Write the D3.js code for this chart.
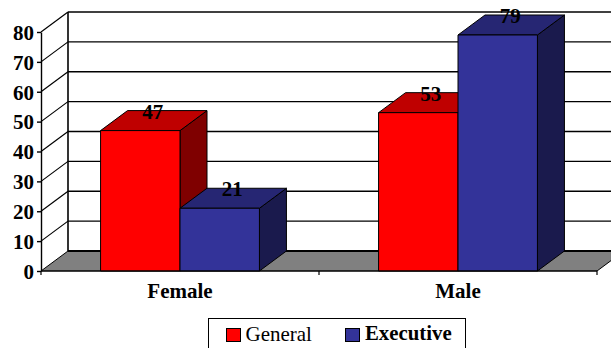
<!DOCTYPE html>
<html>
<head>
<meta charset="utf-8">
<script src="https://cdn.jsdelivr.net/npm/d3@7"></script>
<style>
html, body { margin: 0; padding: 0; background: #fff; }
svg { display: block; }
text { font-family: "Liberation Serif", serif; fill: #000; }
</style>
</head>
<body>
<svg id="chart" width="611" height="348"></svg>
<script>
const categories = ["Female", "Male"];
const seriesNames = ["General", "Executive"];
const generalValues = [47, 53];
const executiveValues = [21, 79];
const yTicks = [0, 10, 20, 30, 40, 50, 60, 70, 80];

const faceColours = {
  General: { front: "#ff0000", top: "#bf0000", side: "#7f0000" },
  Executive: { front: "#333399", top: "#262673", side: "#1a1a4d" }
};

const plotLeft = 41, plotRight = 597, plotBottom = 271, plotTop = 32;
const depthX = 27, depthY = -20;
const labelSize = 21;

const svg = d3.select("#chart");
const x = d3.scaleBand().domain(categories).range([plotLeft, plotRight]);
const inner = d3.scaleBand().domain(seriesNames).range([0, x.bandwidth()]).paddingOuter(0.75).paddingInner(0);
const y = d3.scaleLinear().domain([0, 80]).range([plotBottom, plotTop]);
const path = d3.line();

// Back wall and its gridlines
const wall = svg.append("g");
yTicks.slice(1).forEach(t => {
  wall.append("line")
    .attr("x1", plotLeft + depthX).attr("x2", 611)
    .attr("y1", y(t) + depthY).attr("y2", y(t) + depthY)
    .attr("stroke", "#000").attr("stroke-width", 1.4);
  wall.append("line")
    .attr("x1", plotLeft).attr("x2", plotLeft + depthX)
    .attr("y1", y(t)).attr("y2", y(t) + depthY)
    .attr("stroke", "#000").attr("stroke-width", 1.2);
});
wall.append("line")
  .attr("x1", plotLeft + depthX).attr("x2", plotLeft + depthX)
  .attr("y1", y(80) + depthY).attr("y2", y(0) + depthY)
  .attr("stroke", "#000").attr("stroke-width", 1.6);

// Grey floor of the box
svg.append("path")
  .attr("d", path([[plotLeft, plotBottom], [plotLeft + depthX, plotBottom + depthY], [plotRight + depthX, plotBottom + depthY], [plotRight, plotBottom]]) + "Z")
  .attr("fill", "#808080").attr("stroke", "#000").attr("stroke-width", 1);
svg.append("line")
  .attr("x1", plotLeft + depthX).attr("x2", 611)
  .attr("y1", plotBottom + depthY).attr("y2", plotBottom + depthY)
  .attr("stroke", "#000").attr("stroke-width", 2);

// Extruded bars, back-to-front within each category
const valuesBySeries = { General: generalValues, Executive: executiveValues };
const bars = svg.append("g").attr("stroke", "#000").attr("stroke-width", 1).attr("stroke-linejoin", "round");
categories.forEach((cat, i) => {
  seriesNames.forEach(name => {
    const v = valuesBySeries[name][i];
    const x0 = x(cat) + inner(name), x1 = x0 + inner.bandwidth();
    const yv = y(v), c = faceColours[name];
    bars.append("path").attr("fill", c.side)
      .attr("d", path([[x1, yv], [x1 + depthX, yv + depthY], [x1 + depthX, plotBottom + depthY], [x1, plotBottom]]) + "Z");
    bars.append("path").attr("fill", c.top)
      .attr("d", path([[x0, yv], [x0 + depthX, yv + depthY], [x1 + depthX, yv + depthY], [x1, yv]]) + "Z");
    bars.append("path").attr("fill", c.front)
      .attr("d", path([[x0, yv], [x1, yv], [x1, plotBottom], [x0, plotBottom]]) + "Z");
  });
});

// Value labels sit on the top faces of the bars
categories.forEach((cat, i) => {
  seriesNames.forEach(name => {
    const v = valuesBySeries[name][i];
    const cx = x(cat) + inner(name) + inner.bandwidth() / 2 + depthX / 2 - 1;
    svg.append("text")
      .attr("x", cx).attr("y", y(v) + depthY + 8)
      .attr("text-anchor", "middle")
      .attr("font-size", labelSize).attr("font-weight", "bold")
      .text(v);
  });
});

// Value axis
const yAxis = d3.axisLeft(y).tickValues(yTicks).tickSize(4).tickPadding(3).tickSizeOuter(0);
const yG = svg.append("g").attr("transform", `translate(${plotLeft},0)`).call(yAxis);
yG.select(".domain").attr("stroke", "#000").attr("stroke-width", 1.4);
yG.selectAll("line").attr("stroke", "#000").attr("stroke-width", 1.4);
yG.selectAll("text")
  .attr("dy", "0.35em")
  .attr("font-family", "Liberation Serif").attr("font-size", labelSize).attr("font-weight", "bold");

// Category axis
const xAxis = d3.axisBottom(x).tickSize(0).tickPadding(12);
const xG = svg.append("g").attr("transform", `translate(0,${plotBottom})`).call(xAxis);
xG.select(".domain").remove();
xG.selectAll("text")
  .attr("font-family", "Liberation Serif").attr("font-size", labelSize).attr("font-weight", "bold");
const edges = [plotLeft, ...categories.map(c => x(c) + x.bandwidth())];
xG.selectAll(".edge").data(edges).join("line").attr("class", "edge")
  .attr("x1", d => d).attr("x2", d => d).attr("y1", 0).attr("y2", 4)
  .attr("stroke", "#000").attr("stroke-width", 1.2);
svg.append("line").attr("x1", plotLeft).attr("x2", plotRight).attr("y1", plotBottom).attr("y2", plotBottom)
  .attr("stroke", "#000").attr("stroke-width", 1.2);

// Legend box, cut off by the lower page edge
const legend = svg.append("g");
legend.append("rect").attr("x", 208.5).attr("y", 318.5).attr("width", 257).attr("height", 40)
  .attr("fill", "#fff").attr("stroke", "#000").attr("stroke-width", 1);
const legendItems = [
  { name: seriesNames[0], sx: 226.5, tx: 245.5, by: 341, size: 21, weight: "normal" },
  { name: seriesNames[1], sx: 345.5, tx: 365, by: 340, size: 20.8, weight: "bold" }
];
legendItems.forEach(d => {
  legend.append("rect").attr("x", d.sx).attr("y", 328.5).attr("width", 14).attr("height", 13)
    .attr("fill", faceColours[d.name].front).attr("stroke", "#000").attr("stroke-width", 1);
  legend.append("text").attr("x", d.tx).attr("y", d.by)
    .attr("font-size", d.size).attr("font-weight", d.weight).text(d.name);
});
</script>
</body>
</html>
